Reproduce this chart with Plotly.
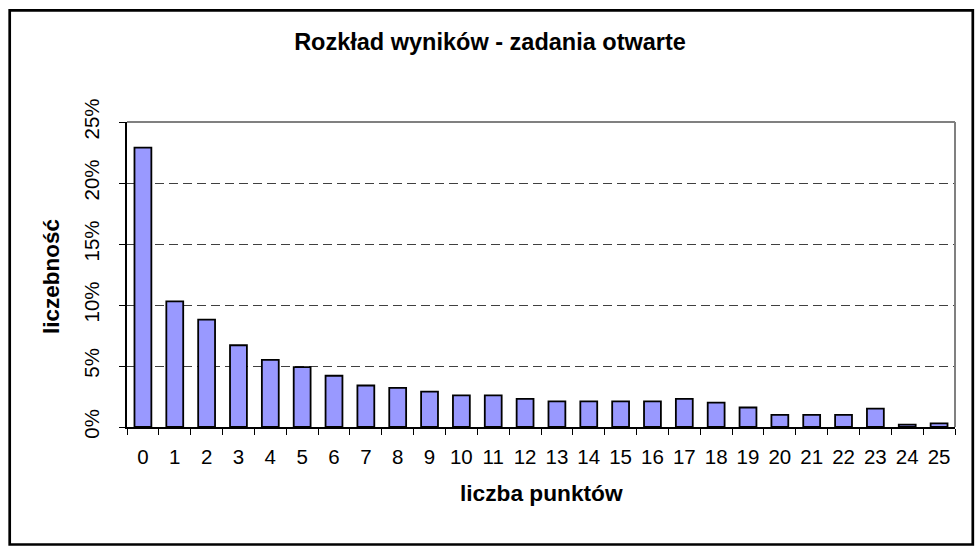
import plotly.graph_objects as go

categories = [str(i) for i in range(26)]
values = [22.9, 10.3, 8.8, 6.7, 5.5, 4.9, 4.2, 3.4, 3.2, 2.9, 2.6, 2.6, 2.3,
          2.1, 2.1, 2.1, 2.1, 2.3, 2.0, 1.6, 1.0, 1.0, 1.0, 1.5, 0.2, 0.3]
title_text = "Rozkład wyników - zadania otwarte"
x_title = "liczba punktów"
y_title = "liczebność"

W, H = 976, 550
L, R, T, B = 127, 21, 122, 123
PW, PH = W - L - R, H - T - B

def px_x(px):
    return (px - L) / PW

def px_y(py):
    return (H - B - py) / PH

FONT = "Liberation Sans, Arial, sans-serif"

fig = go.Figure(go.Bar(
    x=categories, y=values,
    marker=dict(color="#9999FF", line=dict(color="#000000", width=1.8)),
    hoverinfo="x+y",
))

fig.update_layout(
    width=W, height=H,
    margin=dict(l=L, r=R, t=T, b=B),
    paper_bgcolor="white", plot_bgcolor="white",
    bargap=0.47,
    showlegend=False,
    font=dict(family=FONT, color="black", size=20),
    title=dict(text="<b>" + title_text + "</b>", x=490 / W, xanchor="center",
               y=1 - 41.5 / H, yanchor="middle",
               font=dict(family=FONT, size=23.5, color="black")),
    xaxis=dict(type="category", tickson="boundaries", ticks="outside", ticklen=6,
               tickcolor="black", showline=True, linecolor="black", linewidth=1.5,
               showgrid=False, ticklabelstandoff=11,
               tickfont=dict(size=20.5, family=FONT)),
    yaxis=dict(range=[0, 25], dtick=5, ticksuffix="%", tickangle=-90,
               ticks="outside", ticklen=6, tickcolor="black",
               showline=True, linecolor="black", linewidth=1.5,
               showgrid=True, gridcolor="#404040", gridwidth=1,
               griddash="9px,5px", zeroline=False, ticklabelstandoff=12,
               tickfont=dict(size=20.5, family=FONT)),
    annotations=[
        dict(text="<b>" + y_title + "</b>", xref="paper", yref="paper",
             x=px_x(51), y=px_y(277), textangle=-90, showarrow=False,
             xanchor="center", yanchor="middle",
             font=dict(family=FONT, size=22.5, color="black")),
        dict(text="<b>" + x_title + "</b>", xref="paper", yref="paper",
             x=px_x(541), y=px_y(493), showarrow=False,
             xanchor="center", yanchor="middle",
             font=dict(family=FONT, size=22.7, color="black")),
    ],
    shapes=[
        dict(type="line", xref="paper", yref="paper", x0=0, x1=1, y0=1, y1=1,
             line=dict(color="#808080", width=2), layer="above"),
        dict(type="line", xref="paper", yref="paper", x0=1, x1=1, y0=0, y1=1,
             line=dict(color="#808080", width=2), layer="above"),
        dict(type="rect", xref="paper", yref="paper",
             x0=px_x(9.7), x1=px_x(972.8), y0=px_y(544.5), y1=px_y(10.3),
             line=dict(color="black", width=2.7), layer="above"),
    ],
)

fig.write_html("out.html", config={"displayModeBar": False},
               post_script="document.body.style.margin='0';")
